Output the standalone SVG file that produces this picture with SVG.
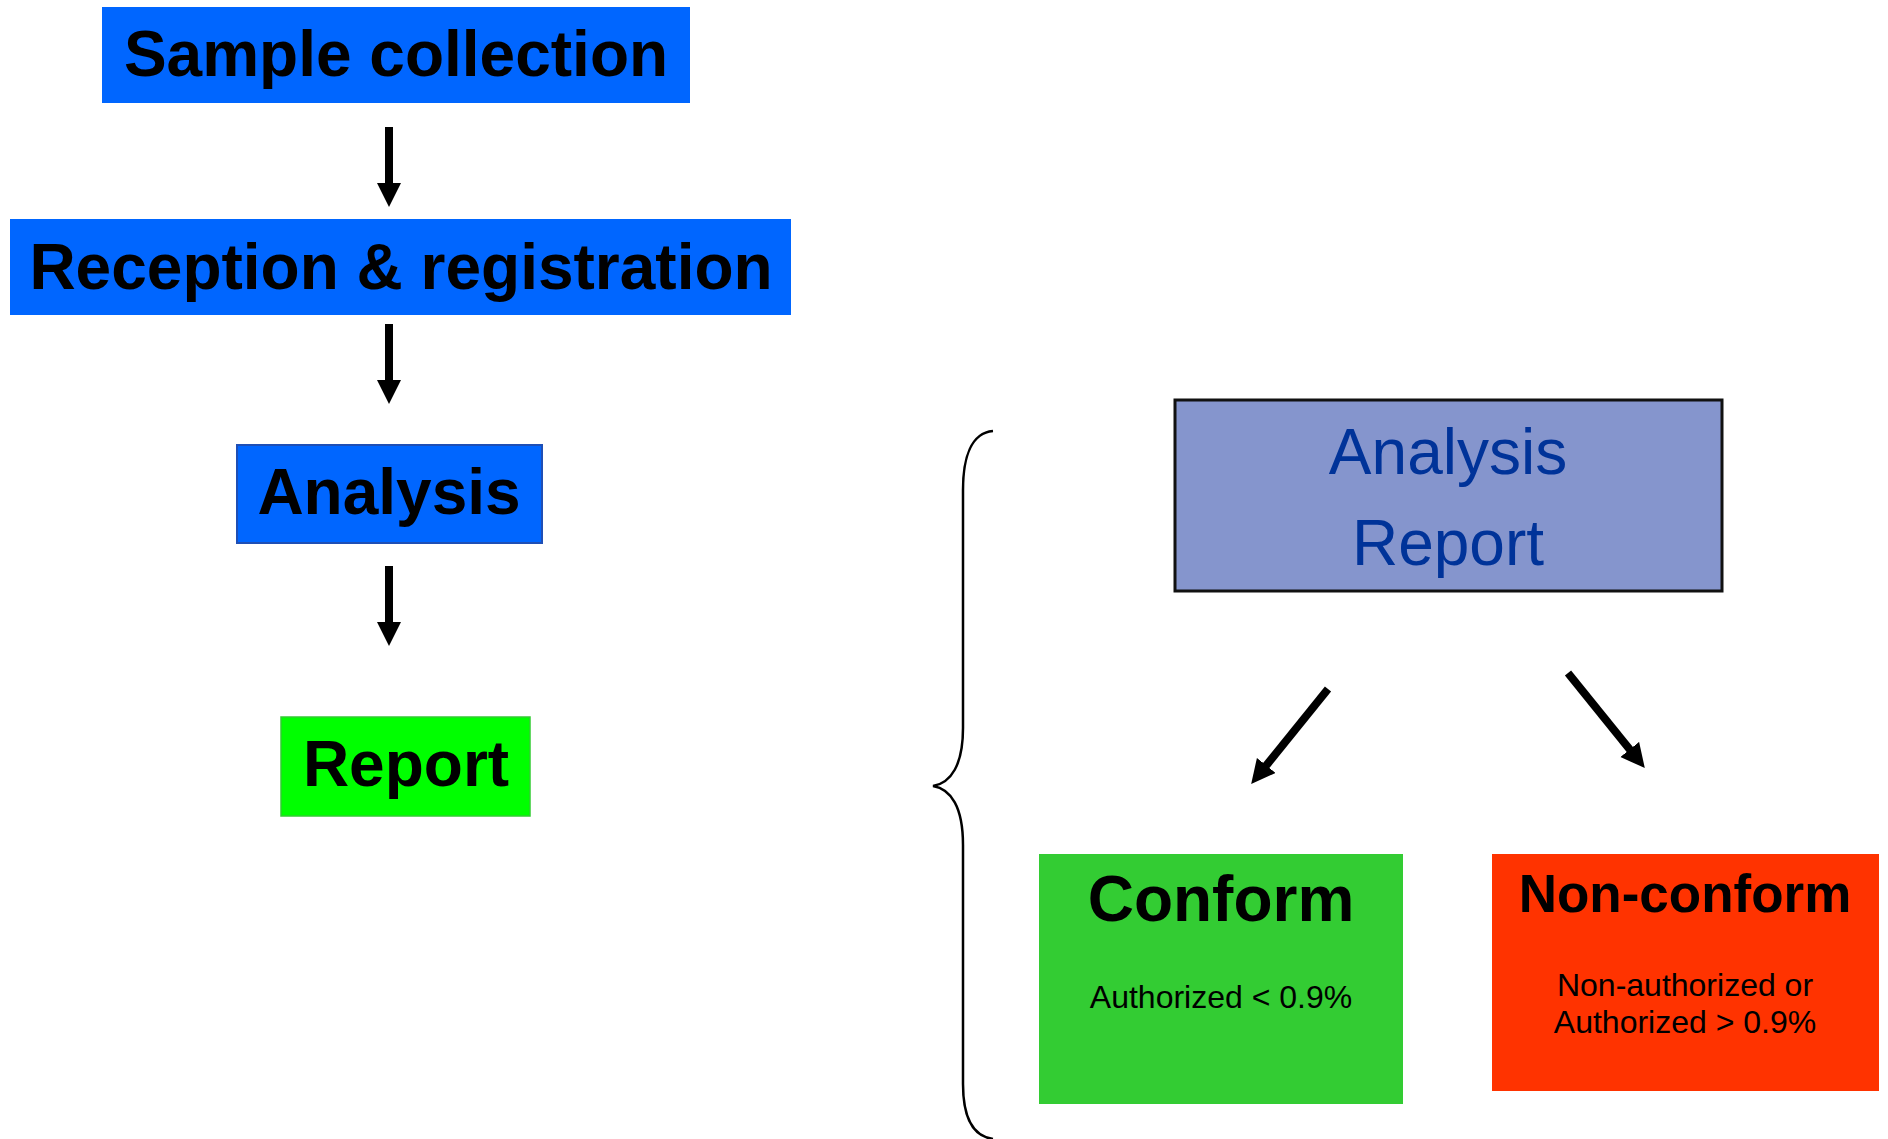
<svg xmlns="http://www.w3.org/2000/svg" width="1888" height="1139" viewBox="0 0 1888 1139">
  <style>
    .bold { font-family: "Liberation Sans", Arial, sans-serif; font-weight: bold; fill: #000; text-anchor: middle; }
    .plain { font-family: "Liberation Sans", Arial, sans-serif; fill: #000; text-anchor: middle; }
    .step { fill: #0066ff; }
    .arrow { stroke: #000; stroke-width: 8; fill: none; }
  </style>
  <defs>
    <marker id="head" markerUnits="userSpaceOnUse" markerWidth="26" markerHeight="26" refX="2" refY="12" orient="auto">
      <path d="M0,0 L24,12 L0,24 z" fill="#000"/>
    </marker>
  </defs>
  <rect width="1888" height="1139" fill="#fff"/>

  <!-- process steps -->
  <g id="sample-collection">
    <rect class="step" x="102" y="7" width="588" height="96"/>
    <text class="bold" x="396" y="76" font-size="64">Sample collection</text>
  </g>
  <g id="reception-registration">
    <rect class="step" x="10" y="219" width="781" height="96"/>
    <text class="bold" x="401" y="289" font-size="64">Reception &amp; registration</text>
  </g>
  <g id="analysis">
    <rect class="step" x="237" y="445" width="305" height="98" stroke="#1f4fb5" stroke-width="2"/>
    <text class="bold" x="389" y="514" font-size="64">Analysis</text>
  </g>
  <g id="report">
    <rect x="281" y="717" width="249" height="99" fill="#00ff00" stroke="#33cc33" stroke-width="1.5"/>
    <text class="bold" x="406" y="786" font-size="64">Report</text>
  </g>

  <!-- outcome of the analysis report -->
  <g id="analysis-report">
    <rect x="1175" y="400" width="547" height="191" fill="#8595cd" stroke="#111" stroke-width="3"/>
    <text class="plain" x="1448" y="474" font-size="64" style="fill:#003399">Analysis</text>
    <text class="plain" x="1448" y="565" font-size="64" style="fill:#003399">Report</text>
  </g>
  <g id="conform">
    <rect x="1039" y="854" width="364" height="250" fill="#33cc33"/>
    <text class="bold" x="1221" y="921" font-size="64">Conform</text>
    <text class="plain" x="1221" y="1008" font-size="32">Authorized &lt; 0.9%</text>
  </g>
  <g id="non-conform">
    <rect x="1492" y="854" width="387" height="237" fill="#ff3300"/>
    <text class="bold" x="1685" y="912" font-size="53">Non-conform</text>
    <text class="plain" x="1685" y="996" font-size="32">Non-authorized or</text>
    <text class="plain" x="1685" y="1033" font-size="32">Authorized &gt; 0.9%</text>
  </g>

  <!-- connectors -->
  <g id="connectors">
    <line class="arrow" x1="389" y1="127" x2="389" y2="185" marker-end="url(#head)"/>
    <line class="arrow" x1="389" y1="324" x2="389" y2="382" marker-end="url(#head)"/>
    <line class="arrow" x1="389" y1="566" x2="389" y2="624" marker-end="url(#head)"/>
    <line class="arrow" x1="1328" y1="689" x2="1265" y2="767" marker-end="url(#head)"/>
    <line class="arrow" x1="1568" y1="673" x2="1631" y2="751" marker-end="url(#head)"/>
    <!-- brace grouping the analysis outcome -->
    <path d="M993,431 C971,433 963,458 963,490 L963,728 C963,765 951,783 933,786 C951,789 963,807 963,845 L963,1084 C963,1114 971,1136 993,1139" fill="none" stroke="#000" stroke-width="2.5"/>
  </g>
</svg>
